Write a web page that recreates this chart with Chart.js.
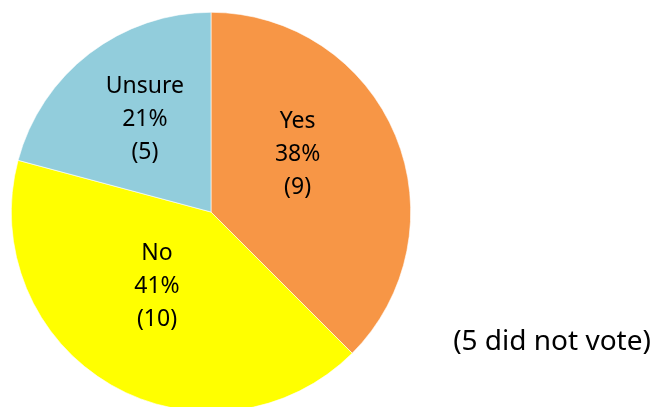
<!DOCTYPE html>
<html>
<head>
<meta charset="utf-8">
<script src="https://cdn.jsdelivr.net/npm/chart.js@4/dist/chart.umd.min.js"></script>
<style>
  html, body { margin: 0; padding: 0; background: #fff; overflow: hidden; }
  #wrap { position: relative; width: 658px; height: 412px; }
</style>
</head>
<body>
<div id="wrap"><canvas id="grafico-votos"></canvas></div>
<script>
// Dados da votação
const opcoes = ["Yes", "No", "Unsure"];
const votos = [9, 10, 5];
const percentuais = [38, 41, 21];
const nota = "(5 did not vote)";

// Cores das fatias
const cores = ["#F79646", "#FFFF00", "#92CDDC"];

// Posição dos rótulos: fração do raio e ajuste de ângulo (graus)
const rotuloRaio = [0.52, 0.46, 0.57];
const rotuloAjuste = [-11, 6, 2];

const fonte = "'Noto Sans', 'Open Sans', sans-serif";

// Plugin para escrever rótulos dentro das fatias e a nota lateral
const rotulosPlugin = {
  id: "rotulos",
  afterDatasetsDraw(chart) {
    const ctx = chart.ctx;
    const meta = chart.getDatasetMeta(0);
    ctx.save();
    ctx.fillStyle = "#000";
    ctx.font = "23px " + fonte;
    ctx.textAlign = "center";
    ctx.textBaseline = "middle";
    meta.data.forEach((arc, i) => {
      const meio = (arc.startAngle + arc.endAngle) / 2 + rotuloAjuste[i] * Math.PI / 180;
      const r = arc.outerRadius * rotuloRaio[i];
      const x = arc.x + Math.cos(meio) * r;
      const y = arc.y + Math.sin(meio) * r;
      const linhas = [opcoes[i], percentuais[i] + "%", "(" + votos[i] + ")"];
      linhas.forEach((t, k) => ctx.fillText(t, x, y + (k - 1) * 33));
    });
    ctx.font = "28px " + fonte;
    ctx.fillText(nota, 552, 342);
    ctx.restore();
  },
};

new Chart(document.getElementById("grafico-votos"), {
  type: "pie",
  data: {
    labels: opcoes,
    datasets: [
      {
        data: votos,
        backgroundColor: cores,
        borderColor: "#ffffff",
        borderWidth: 0.6,
      },
    ],
  },
  options: {
    responsive: true,
    maintainAspectRatio: false,
    animation: false,
    layout: {
      padding: { left: 11, top: 12, right: 247, bottom: 0 },
    },
    plugins: {
      legend: { display: false },
      tooltip: { enabled: false },
    },
  },
  plugins: [rotulosPlugin],
});
</script>
</body>
</html>
